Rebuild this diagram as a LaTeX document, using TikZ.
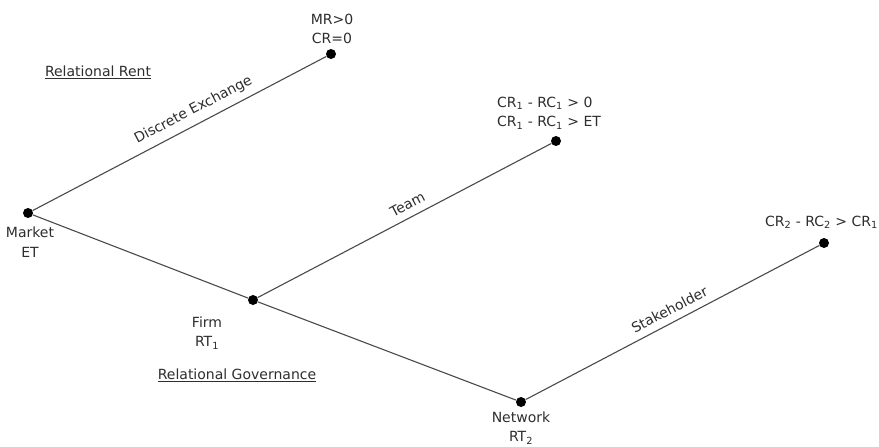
\documentclass[tikz,border=0pt]{standalone}
\usepackage{fontspec}
\setmainfont{DejaVu Sans}
\begin{document}
\begin{tikzpicture}[x=1pt,y=-1pt,
  font=\fontsize{14}{19.5}\selectfont,
  dot/.style={circle,fill=black,inner sep=0pt,minimum size=10pt},
  branch/.style={draw=linegray,line width=1.1pt},
  lbl/.style={text=txtgray,inner sep=0pt,align=center},
  edgelbl/.style={text=txtgray,sloped,above=6pt,inner sep=1pt}]
\definecolor{linegray}{HTML}{4A4A4A}
\definecolor{txtgray}{HTML}{2E2E2E}
\fill[white] (0,0) rectangle (879,447);
\useasboundingbox (0,0) rectangle (879,447);

% branch points and end points
\node[dot] (market) at (28,213) {};
\node[dot] (mr) at (331,54) {};
\node[dot] (firm) at (253,300) {};
\node[dot] (team) at (556,141) {};
\node[dot] (network) at (521,402) {};
\node[dot] (stake) at (824,243) {};

% connectors
\draw[branch] (market) -- node[edgelbl,pos=0.57] {Discrete Exchange} (mr);
\draw[branch] (market) -- (firm);
\draw[branch] (firm) -- node[edgelbl,pos=0.53] {Team} (team);
\draw[branch] (firm) -- (network);
\draw[branch] (network) -- node[edgelbl,pos=0.51] {Stakeholder} (stake);

% node texts
\node[lbl] (mrtxt) at (332,29) {MR>0\\CR=0};
\node[lbl,align=left,anchor=west] (teamtxt) at (497,113) {CR\textsubscript{1} - RC\textsubscript{1} > 0\\CR\textsubscript{1} - RC\textsubscript{1} > ET};
\node[lbl,anchor=east] (staketxt) at (878,222) {CR\textsubscript{2} - RC\textsubscript{2} > CR\textsubscript{1}};
\node[lbl] (markettxt) at (30,242) {Market\\ET};
\node[lbl] (firmtxt) at (207,333) {Firm\\RT\textsubscript{1}};
\node[lbl] (networktxt) at (521,428) {Network\\RT\textsubscript{2}};

% headings
\node[lbl] (rent) at (98,72) {\underline{Relational Rent}};
\node[lbl] (gov) at (237,375) {\underline{Relational Governance}};
\end{tikzpicture}
\end{document}
